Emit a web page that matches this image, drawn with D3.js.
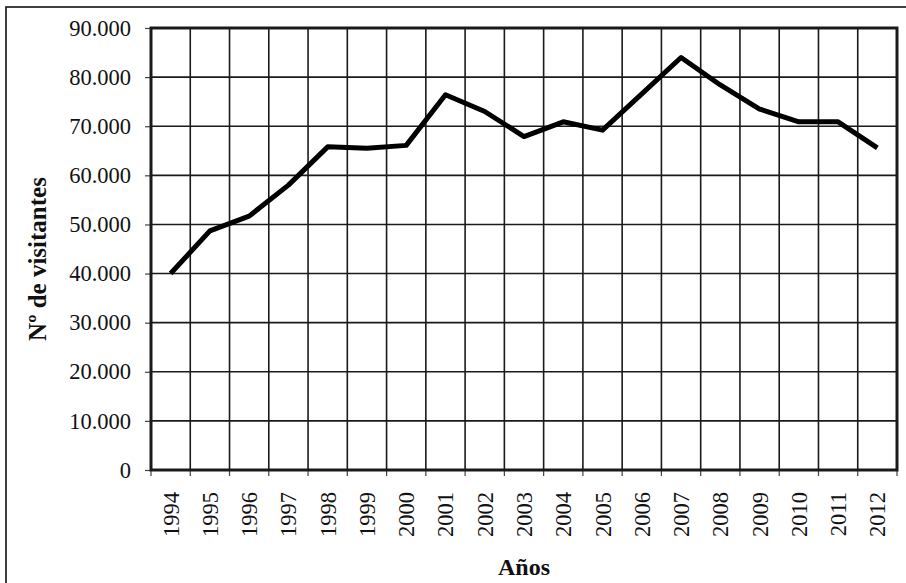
<!DOCTYPE html>
<html>
<head>
<meta charset="utf-8">
<script src="https://cdn.jsdelivr.net/npm/d3@7"></script>
<style>
html,body{margin:0;padding:0;background:#fff;}
svg{display:block;}
</style>
</head>
<body>
<svg id="chart" width="906" height="583"></svg>
<script>
const years = ["1994","1995","1996","1997","1998","1999","2000","2001","2002","2003","2004","2005","2006","2007","2008","2009","2010","2011","2012"];
const visitors = [40000,48700,51700,58000,65800,65500,66100,76400,73000,67900,70900,69200,76600,84000,78400,73500,70900,70900,65600];
const yTicks = [0,10000,20000,30000,40000,50000,60000,70000,80000,90000];
const yTickLabels = ["0","10.000","20.000","30.000","40.000","50.000","60.000","70.000","80.000","90.000"];
const xTitle = "Años";
const yTitle = "Nº de visitantes";

const svg = d3.select("#chart");
const font = "'Liberation Serif','Times New Roman',serif";
const L = 151, R = 897, T = 28, B = 470;

// outer frame
svg.append("rect").attr("x",6).attr("y",7).attr("width",1000).attr("height",1000)
  .attr("fill","none").attr("stroke","#111").attr("stroke-width",1.6);

const x = d3.scaleBand().domain(years).range([L,R]).padding(0);
const y = d3.scaleLinear().domain([0,90000]).range([B,T]);

// horizontal grid
svg.append("g").selectAll("line").data(yTicks).join("line")
  .attr("x1",L).attr("x2",R).attr("y1",d=>y(d)).attr("y2",d=>y(d))
  .attr("stroke","#1a1a1a").attr("stroke-width",1.6);
// vertical grid at band boundaries
const bounds = years.map(d=>x(d)).concat([R]);
svg.append("g").selectAll("line").data(bounds).join("line")
  .attr("x1",d=>d).attr("x2",d=>d).attr("y1",T).attr("y2",B)
  .attr("stroke","#1a1a1a").attr("stroke-width",1.6);

// y axis
const yAxis = svg.append("g").attr("transform",`translate(${L},0)`)
  .call(d3.axisLeft(y).tickValues(yTicks).tickFormat((d,i)=>yTickLabels[i]).tickSize(6).tickPadding(14));
yAxis.select(".domain").remove();
yAxis.selectAll(".tick line").attr("stroke","#444").attr("stroke-width",1.2);
yAxis.selectAll("text").attr("font-family",font).attr("font-size",22.5).attr("fill","#111");

// x axis ticks at band boundaries
svg.append("g").selectAll("line").data(bounds).join("line")
  .attr("x1",d=>d).attr("x2",d=>d).attr("y1",B).attr("y2",B+6)
  .attr("stroke","#444").attr("stroke-width",1.2);
svg.append("g").selectAll("text").data(years).join("text")
  .attr("transform",d=>`translate(${x(d)+x.bandwidth()/2+8},492) rotate(-90)`)
  .attr("text-anchor","end")
  .attr("font-family",font).attr("font-size",22.5).attr("fill","#111")
  .text(d=>d);

// plot border
svg.append("rect").attr("x",L).attr("y",T).attr("width",R-L).attr("height",B-T)
  .attr("fill","none").attr("stroke","#1a1a1a").attr("stroke-width",3);

// line
const line = d3.line().x((d,i)=>x(years[i])+x.bandwidth()/2).y(d=>y(d));
svg.append("path").datum(visitors).attr("d",line)
  .attr("fill","none").attr("stroke","#000").attr("stroke-width",5)
  .attr("stroke-linejoin","round").attr("stroke-linecap","butt");

// titles
svg.append("text").attr("x",(L+R)/2).attr("y",575).attr("text-anchor","middle")
  .attr("font-family",font).attr("font-weight","bold").attr("font-size",24).attr("fill","#111")
  .text(xTitle);
svg.append("text").attr("transform","translate(46,259) rotate(-90)").attr("text-anchor","middle")
  .attr("font-family",font).attr("font-weight","bold").attr("font-size",25).attr("fill","#111")
  .text(yTitle);
</script>
</body>
</html>
